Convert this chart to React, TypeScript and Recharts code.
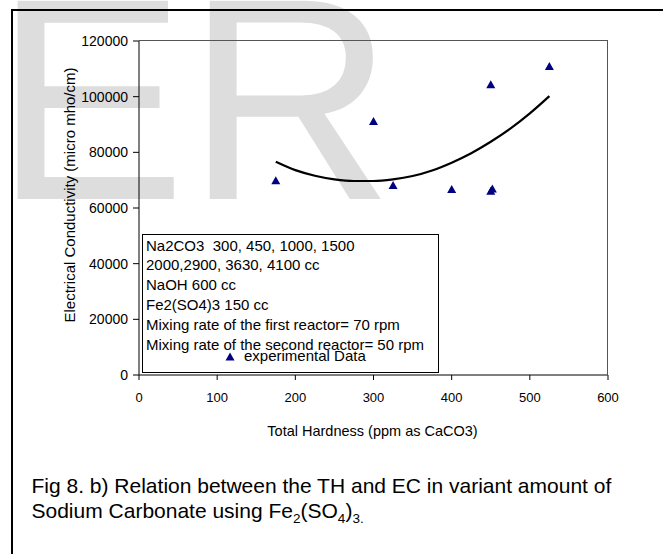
import React from 'react'
import { ComposedChart, Scatter, XAxis, YAxis, Legend, Label } from 'recharts'

// measured points (total hardness vs electrical conductivity)
const hardness = [175, 300, 325, 400, 450, 452, 450, 525]
const conductivity = [70000, 91300, 68300, 66800, 66200, 67000, 104500, 111000]

// polynomial trend line
const trendHardness = [175, 200, 225, 250, 275, 300, 325, 350, 375, 400, 425, 450, 475, 500, 525]
const trendConductivity = [76600, 73600, 71600, 70300, 69700, 69700, 70300, 71500, 73500, 76300, 79700, 83800, 88500, 94000, 100200]

const xTicks = [0, 100, 200, 300, 400, 500, 600]
const yTicks = [0, 20000, 40000, 60000, 80000, 100000, 120000]

const notes = [
  'Na2CO3  300, 450, 1000, 1500',
  '2000,2900, 3630, 4100 cc',
  'NaOH 600 cc',
  'Fe2(SO4)3 150 cc',
  'Mixing rate of the first reactor= 70 rpm',
  'Mixing rate of the second reactor= 50 rpm',
]
const seriesName = 'experimental Data'

const FONT = '"Liberation Sans", Arial, sans-serif'
const NAVY = '#000080'

const points = hardness.map((x, i) => ({ x, y: conductivity[i] }))
const trend = trendHardness.map((x, i) => ({ x, y: trendConductivity[i] }))

const Triangle = (props: any) => {
  const { cx, cy } = props
  if (cx == null || cy == null) return <g />
  return <polygon points={`${cx},${cy - 4} ${cx - 4.5},${cy + 4} ${cx + 4.5},${cy + 4}`} fill={NAVY} />
}

function NotesBox() {
  return (
    <div
      style={{
        position: 'relative',
        width: 295,
        height: 137,
        border: '1px solid #000',
        background: '#fff',
        fontFamily: FONT,
        fontSize: 15,
        lineHeight: '19.8px',
        color: '#000',
        textAlign: 'left',
      }}
    >
      <div style={{ paddingLeft: 3, paddingTop: 0.6 }}>
        {notes.map((n) => (
          <div key={n} style={{ whiteSpace: 'pre' }}>{n}</div>
        ))}
      </div>
      <svg style={{ position: 'absolute', left: 82, top: 117 }} width={10} height={9}>
        <polygon points="5,0.5 0.5,8.5 9.5,8.5" fill={NAVY} />
      </svg>
      <span style={{ position: 'absolute', left: 101, top: 111, whiteSpace: 'pre' }}>{seriesName}</span>
    </div>
  )
}

export default function App() {
  return (
    <div style={{ position: 'absolute', left: 0, top: 0, width: 663, height: 554, overflow: 'hidden', background: '#fff' }}>
      {/* watermark */}
      <svg style={{ position: 'absolute', left: 0, top: 0 }} width={663} height={554}>
        <text x={-6} y={199} fontSize={288} fill="#dddddd" fontFamily={FONT}>ER</text>
      </svg>

      {/* outer frame */}
      <div style={{ position: 'absolute', left: 11, top: 9, width: 700, height: 600, border: '2px solid #000' }} />

      <div style={{ position: 'absolute', left: 0, top: 0 }}>
        <ComposedChart
          width={663}
          height={554}
          margin={{ top: 41, right: 55, bottom: 139, left: 79 }}
          style={{ fontFamily: FONT }}
        >
          <XAxis
            type="number"
            dataKey="x"
            domain={[0, 600]}
            ticks={xTicks}
            interval={0}
            height={40}
            tickSize={5}
            tickMargin={13}
            axisLine={{ stroke: '#000' }}
            tickLine={{ stroke: '#000' }}
            tick={{ fill: '#000', fontSize: 13 }}
          >
            <Label
              content={({ viewBox }: any) => (
                <text x={viewBox.x + viewBox.width / 2 - 1} y={viewBox.y + 61} textAnchor="middle" fontSize={14.5} fill="#000">
                  Total Hardness (ppm as CaCO3)
                </text>
              )}
            />
          </XAxis>
          <YAxis
            type="number"
            dataKey="y"
            domain={[0, 120000]}
            ticks={yTicks}
            interval={0}
            width={60}
            tickSize={6}
            tickMargin={5}
            axisLine={{ stroke: '#000' }}
            tickLine={{ stroke: '#000' }}
            tick={{ fill: '#000', fontSize: 14 }}
          >
            <Label
              content={({ viewBox }: any) => {
                const x = viewBox.x - 9
                const y = viewBox.y + 154
                return (
                  <text x={x} y={y} dy="0.36em" textAnchor="middle" fontSize={15} fill="#000" transform={`rotate(-90 ${x} ${y})`}>
                    Electrical Conductivity (micro mho/cm)
                  </text>
                )
              }}
            />
          </YAxis>
          <Legend
            layout="horizontal"
            verticalAlign="middle"
            align="center"
            content={() => <NotesBox />}
            wrapperStyle={{ position: 'absolute', left: 142, top: 234, width: 297, height: 139 }}
          />
          <Scatter
            name="trend"
            data={trend}
            legendType="none"
            line={{ stroke: '#000', strokeWidth: 2.2 }}
            lineJointType="monotoneX"
            shape={() => <g />}
            isAnimationActive={false}
          />
          <Scatter name={seriesName} data={points} fill={NAVY} shape={Triangle} isAnimationActive={false} />
        </ComposedChart>
      </div>

      {/* plot frame top / right */}
      <div
        style={{
          position: 'absolute',
          left: 139,
          top: 40,
          width: 468,
          height: 335,
          borderTop: '1px solid #555',
          borderRight: '1px solid #555',
          pointerEvents: 'none',
        }}
      />

      {/* caption */}
      <div
        style={{
          position: 'absolute',
          left: 31.5,
          top: 474,
          fontFamily: FONT,
          fontSize: 21,
          lineHeight: '24.5px',
          color: '#000',
          whiteSpace: 'nowrap',
        }}
      >
        <div>Fig 8. b) Relation between the TH and EC in variant amount of</div>
        <div>
          Sodium Carbonate using Fe<sub style={{ fontSize: 13.5, lineHeight: 0 }}>2</sub>(SO
          <sub style={{ fontSize: 13.5, lineHeight: 0 }}>4</sub>)<sub style={{ fontSize: 13.5, lineHeight: 0 }}>3.</sub>
        </div>
      </div>
    </div>
  )
}
